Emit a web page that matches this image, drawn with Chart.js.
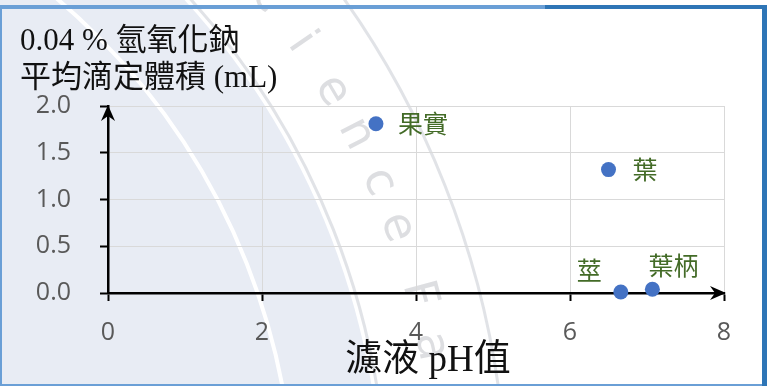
<!DOCTYPE html>
<html>
<head>
<meta charset="utf-8">
<script src="https://cdn.jsdelivr.net/npm/chart.js@4"></script>
<style>
  html, body { margin: 0; padding: 0; background: #fff; }
  #wrap { width: 767px; height: 386px; }
</style>
</head>
<body>
<div id="wrap"><canvas id="phChart" width="767" height="386"></canvas></div>
<script>
// 各部位濾液 pH 與 0.04 % 氫氧化鈉平均滴定體積
var partNames = ['果實', '葉', '莖', '葉柄'];
var phValues = [3.48, 6.50, 6.66, 7.07];
var titrationVolumes = [1.81, 1.32, 0.01, 0.04];
var xTicks = [0, 2, 4, 6, 8];
var yTicks = [0, 0.5, 1.0, 1.5, 2.0];
var yTitleLines = ['0.04 % 氫氧化鈉', '平均滴定體積 (mL)'];
var xTitleText = '濾液 pH值';
var sealLetters = ['S', 'c', 'i', 'e', 'n', 'c', 'e', 'F', 'a'];
var sealAngles = [-42.5, -38.5, -34.6, -30.6, -27.2, -23.5, -20.1, -15.2, -11.5];

// label offset from each point: [dx, dy]
var labelOffsets = [[22, 0], [24, 0], [-44, -22], [-4, -24]];

var tickFont = { family: "'Open Sans', 'DejaVu Sans', sans-serif", size: 25 };
var serifCjk = "'Liberation Serif', 'Noto Sans CJK TC', serif";

// faint seal in the background
var sealPlugin = {
    id: 'seal',
    beforeDraw: function (chart) {
        var ctx = chart.ctx;
        var cx = -378, cy = 511;
        ctx.save();
        ctx.fillStyle = '#ffffff';
        ctx.fillRect(0, 0, chart.width, chart.height);

        ctx.beginPath();
        ctx.arc(cx, cy, 760, 0, Math.PI * 2);
        ctx.fillStyle = '#e8ecf4';
        ctx.fill();

        ctx.lineWidth = 4;
        ctx.strokeStyle = '#ffffff';
        ctx.beginPath();
        ctx.arc(cx, cy, 672, 0, Math.PI * 2);
        ctx.stroke();

        ctx.lineWidth = 3;
        ctx.strokeStyle = 'rgba(195,199,208,0.5)';
        ctx.beginPath();
        ctx.arc(cx, cy, 765, 0, Math.PI * 2);
        ctx.stroke();
        ctx.beginPath();
        ctx.arc(cx, cy, 885, 0, Math.PI * 2);
        ctx.stroke();

        // letters around the rim
        ctx.fillStyle = 'rgba(170,172,180,0.4)';
        ctx.font = "46px 'DejaVu Sans', sans-serif";
        ctx.textAlign = 'center';
        ctx.textBaseline = 'middle';
        sealLetters.forEach(function (ch, i) {
            var a = sealAngles[i] * Math.PI / 180;
            ctx.save();
            ctx.translate(cx + 825 * Math.cos(a), cy + 825 * Math.sin(a));
            ctx.rotate(a + Math.PI / 2);
            ctx.fillText(ch, 0, 0);
            ctx.restore();
        });
        ctx.restore();
    }
};

function arrowHead(ctx, x, y, dir) {
    ctx.beginPath();
    if (dir === 'right') {
        ctx.moveTo(x, y);
        ctx.lineTo(x - 16, y - 7);
        ctx.lineTo(x - 11, y);
        ctx.lineTo(x - 16, y + 7);
    } else {
        ctx.moveTo(x, y);
        ctx.lineTo(x - 7, y + 16);
        ctx.lineTo(x, y + 11);
        ctx.lineTo(x + 7, y + 16);
    }
    ctx.closePath();
    ctx.fill();
}

var decorPlugin = {
    id: 'decor',
    afterDraw: function (chart) {
        var ctx = chart.ctx;
        var area = chart.chartArea;
        ctx.save();

        // arrows on the axes
        ctx.fillStyle = '#000';
        arrowHead(ctx, area.right + 2, area.bottom, 'right');
        arrowHead(ctx, area.left, area.top - 1, 'up');

        // part names next to the points
        var meta = chart.getDatasetMeta(0);
        ctx.fillStyle = '#436b27';
        ctx.font = "25px 'Noto Sans CJK TC', sans-serif";
        ctx.textAlign = 'left';
        ctx.textBaseline = 'middle';
        meta.data.forEach(function (pt, i) {
            ctx.fillText(partNames[i], pt.x + labelOffsets[i][0], pt.y + labelOffsets[i][1]);
        });

        // axis titles
        ctx.fillStyle = '#111';
        ctx.textBaseline = 'alphabetic';
        ctx.font = '31px ' + serifCjk;
        ctx.fillText(yTitleLines[0], 20, 50);
        ctx.fillText(yTitleLines[1], 20, 87);
        ctx.textAlign = 'center';
        ctx.font = '37px ' + serifCjk;
        ctx.fillText(xTitleText, 428, 371);

        // frame
        ctx.fillStyle = '#6a9fd6';
        ctx.fillRect(0, 5, 545, 4);
        ctx.fillRect(0, 5, 2, chart.height - 5);
        ctx.fillRect(0, chart.height - 2, chart.width, 2);
        ctx.fillStyle = '#2e75b6';
        ctx.fillRect(545, 5, chart.width - 545, 4);
        ctx.fillRect(chart.width - 5, 5, 5, chart.height - 5);
        ctx.restore();
    }
};

var ctx = document.getElementById('phChart').getContext('2d');

var chart = new Chart(ctx, {
    type: 'scatter',
    data: {
        datasets: [{
            label: '平均滴定體積',
            data: phValues.map(function (v, i) { return { x: v, y: titrationVolumes[i] }; }),
            backgroundColor: '#4472c4',
            borderWidth: 0,
            pointRadius: 7.5,
            pointHoverRadius: 7.5,
            clip: false
        }]
    },
    options: {
        responsive: false,
        animation: false,
        events: [],
        layout: { padding: { top: 106, right: 43, left: 0, bottom: 0 } },
        plugins: {
            legend: { display: false },
            tooltip: { enabled: false }
        },
        scales: {
            x: {
                type: 'linear',
                min: 0,
                max: 8,
                afterBuildTicks: function (s) { s.ticks = xTicks.map(function (v) { return { value: v }; }); },
                afterFit: function (s) { s.height = 93; },
                grid: { color: '#d9d9d9', lineWidth: 1, tickColor: '#000', tickWidth: 2, tickLength: 8 },
                border: { color: '#000', width: 2.5 },
                ticks: { font: tickFont, color: '#595959', padding: 17, maxRotation: 0 }
            },
            y: {
                type: 'linear',
                min: 0,
                max: 2,
                afterBuildTicks: function (s) { s.ticks = yTicks.map(function (v) { return { value: v }; }); },
                afterFit: function (s) { s.width = 108; },
                grid: { color: '#d9d9d9', lineWidth: 1, tickColor: '#000', tickWidth: 2, tickLength: 8 },
                border: { color: '#000', width: 2.5 },
                ticks: {
                    font: tickFont, color: '#595959', padding: 29,
                    callback: function (v) { return Number(v).toFixed(1); }
                }
            }
        }
    },
    plugins: [sealPlugin, decorPlugin]
});
</script>
</body>
</html>
